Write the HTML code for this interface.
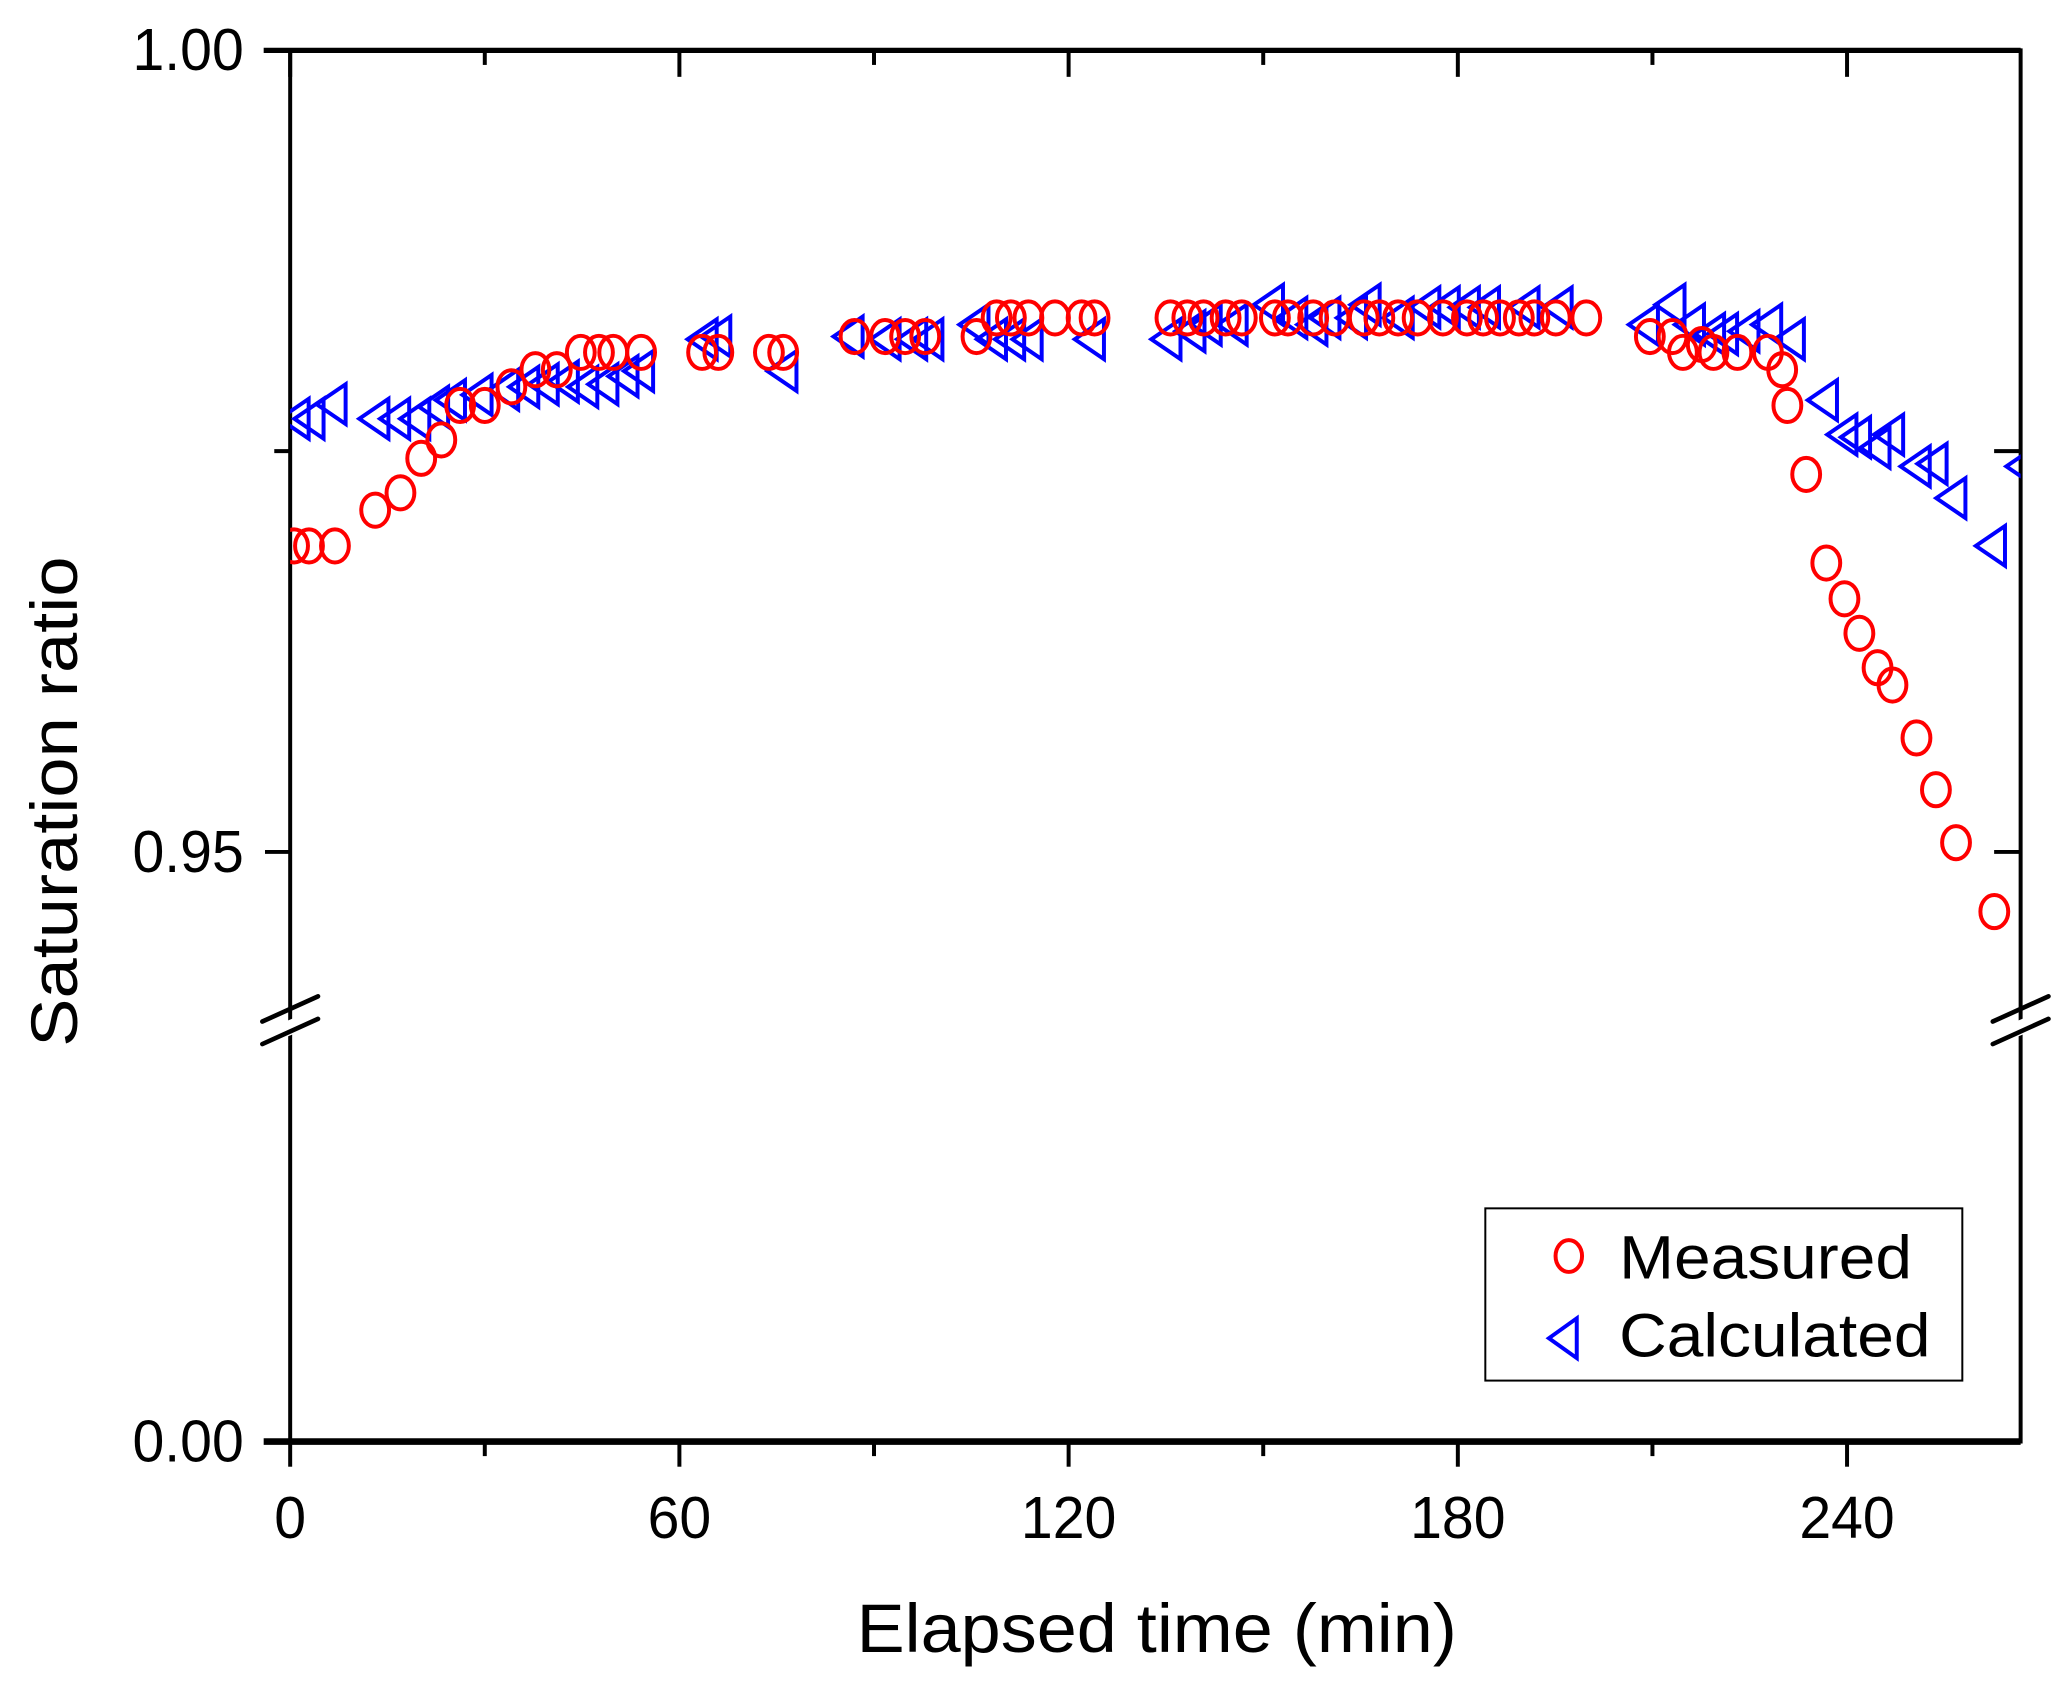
<!DOCTYPE html>
<html><head><meta charset="utf-8"><style>
html,body{margin:0;padding:0;background:#fff;}
svg{display:block;}
text{font-family:"Liberation Sans",Arial,sans-serif;fill:#000;}
</style></head><body>
<svg id="chart" width="2067" height="1684" viewBox="0 0 1560 1271" preserveAspectRatio="none" xmlns="http://www.w3.org/2000/svg">
<defs><clipPath id="plotclip"><rect x="219" y="38" width="1306" height="1050"/></clipPath></defs>
<g id="axes"></g>
<g id="marks" clip-path="url(#plotclip)"></g>
<g id="legend">
  <rect x="1121" y="912" width="360" height="130" fill="#fff" stroke="#000" stroke-width="1.5"/>
  <ellipse cx="1184" cy="948" rx="10" ry="12" fill="none" stroke="#f00" stroke-width="3"/>
  <polygon points="1169,1010 1190,995 1190,1025" fill="none" stroke="#00f" stroke-width="3"/>
  <text x="1222" y="965" font-size="46" textLength="221" lengthAdjust="spacingAndGlyphs">Measured</text>
  <text x="1222" y="1024" font-size="46" textLength="235" lengthAdjust="spacingAndGlyphs">Calculated</text>
</g>
<text x="873" y="1247" font-size="52" text-anchor="middle" textLength="453" lengthAdjust="spacingAndGlyphs">Elapsed time (min)</text>
<text transform="translate(58,605) rotate(-90)" font-size="50" text-anchor="middle" textLength="370" lengthAdjust="spacingAndGlyphs">Saturation ratio</text>
</svg>
<script>
const measuredTime=[0.6,2.9,6.9,13.1,17.0,20.2,23.3,26.2,30.0,34.1,37.8,41.1,44.8,47.6,49.8,54.1,63.5,66.0,73.8,76.0,87.0,91.7,94.8,97.9,105.8,108.9,111.1,113.8,117.9,122.0,124.0,135.7,138.3,140.8,144.2,146.7,151.8,153.8,157.7,161.0,165.5,167.9,170.8,173.8,177.7,181.4,183.9,186.5,189.4,191.8,195.1,199.8,209.6,213.1,214.7,217.6,219.4,223.1,227.8,230.0,230.8,233.7,236.8,239.6,241.9,244.7,247.0,250.7,253.7,256.8,262.7];
const measuredRatio=[0.96909,0.96909,0.96909,0.97132,0.97240,0.97455,0.97570,0.97785,0.97785,0.97901,0.98008,0.98008,0.98116,0.98116,0.98116,0.98116,0.98116,0.98116,0.98116,0.98116,0.98215,0.98215,0.98215,0.98215,0.98215,0.98331,0.98331,0.98331,0.98331,0.98331,0.98331,0.98331,0.98331,0.98331,0.98331,0.98331,0.98331,0.98331,0.98331,0.98331,0.98331,0.98331,0.98331,0.98331,0.98331,0.98331,0.98331,0.98331,0.98331,0.98331,0.98331,0.98331,0.98215,0.98215,0.98116,0.98165,0.98116,0.98116,0.98116,0.98008,0.97785,0.97355,0.96802,0.96579,0.96364,0.96149,0.96041,0.95711,0.95388,0.95058,0.94628];
const calcTime=[0.6,2.9,6.3,12.9,16.1,19.2,22.1,24.7,28.8,32.9,36.0,39.0,42.1,45.1,48.2,51.3,53.7,63.5,65.6,75.8,86.0,91.7,95.8,98.3,105.4,108.1,110.9,113.6,123.2,135.0,138.7,141.2,145.2,150.8,154.4,157.5,159.5,163.6,165.7,170.8,174.9,177.9,181.0,184.1,190.2,195.3,208.6,212.7,215.7,218.8,220.8,224.1,227.6,231.1,236.2,239.2,241.3,244.3,246.4,250.5,253.1,256.0,262.1,266.8];
const calcRatio=[0.97702,0.97702,0.97793,0.97702,0.97702,0.97702,0.97777,0.97818,0.97851,0.97884,0.97901,0.97917,0.97934,0.97901,0.97917,0.97967,0.98000,0.98198,0.98215,0.98000,0.98215,0.98198,0.98198,0.98198,0.98289,0.98198,0.98198,0.98198,0.98198,0.98198,0.98248,0.98289,0.98289,0.98413,0.98331,0.98289,0.98331,0.98331,0.98413,0.98331,0.98397,0.98397,0.98397,0.98397,0.98397,0.98397,0.98289,0.98413,0.98289,0.98231,0.98231,0.98248,0.98289,0.98198,0.97818,0.97603,0.97587,0.97521,0.97603,0.97405,0.97421,0.97207,0.96909,0.97405];
const xTicks=[0,60,120,180,240];
const xMinor=[30,90,150,210];
const yTickLabels=["1.00","0.95","0.00"];

const NS="http://www.w3.org/2000/svg";
const X0=219,X1=1525,YT=38,YB=1088;
function xs(t){return X0+t*(1394-219)/240;}
function ys(v){return 38+(1-v)*(643-38)/0.05;}
function mk(tag,attrs,parent){const e=document.createElementNS(NS,tag);for(const k in attrs)e.setAttribute(k,attrs[k]);parent.appendChild(e);return e;}
const axes=document.getElementById('axes'),marks=document.getElementById('marks');
let e;
e=mk('rect',{x:X0,y:YT,width:X1-X0,height:YB-YT,fill:'none',stroke:'#000','stroke-width':3},axes);


e=mk('line',{x1:X0-20,y1:YB,x2:X1,y2:YB,stroke:'#000','stroke-width':5},axes);


e=mk('line',{x1:X0-20,y1:YT,x2:X1,y2:YT,stroke:'#000','stroke-width':4},axes);


xTicks.forEach(t=>{
  const x=xs(t);
  e=mk('line',{x1:x,y1:YB,x2:x,y2:YB+19,stroke:'#000','stroke-width':3},axes);
  
  
  e=mk('line',{x1:x,y1:YT,x2:x,y2:YT+20,stroke:'#000','stroke-width':3},axes);
  
  
  e=mk('text',{x:x,y:1161,'font-size':45,'text-anchor':'middle'},axes);
  e.textContent=String(t);
  e.setAttribute('textLength',String(String(t).length*24));
  e.setAttribute('lengthAdjust','spacingAndGlyphs');
  
  
});
xMinor.forEach(t=>{
  const x=xs(t);
  e=mk('line',{x1:x,y1:YB,x2:x,y2:YB+11,stroke:'#000','stroke-width':3},axes);
  
  
  e=mk('line',{x1:x,y1:YT,x2:x,y2:YT+11,stroke:'#000','stroke-width':3},axes);
  
  
});
const yPos=[ys(1.0),ys(0.95),YB];
yTickLabels.forEach((lab,i)=>{
  e=mk('line',{x1:X0-19,y1:yPos[i],x2:X0,y2:yPos[i],stroke:'#000','stroke-width':3},axes);
  
  
  e=mk('text',{x:100,y:yPos[i]+15,'font-size':45,textLength:84,lengthAdjust:'spacingAndGlyphs'},axes);
  e.textContent=lab;
  
  
});
e=mk('line',{x1:X0-12,y1:ys(0.975),x2:X0,y2:ys(0.975),stroke:'#000','stroke-width':3},axes);


[0.975,0.95].forEach(v=>{
  e=mk('line',{x1:X1-20,y1:ys(v),x2:X1,y2:ys(v),stroke:'#000','stroke-width':3},axes);
  
  
});
[X0,X1].forEach(x=>{
  e=mk('polygon',{points:(x-6)+','+(772)+' '+(x+6)+','+(767)+' '+(x+6)+','+(779)+' '+(x-6)+','+(784),fill:'#fff'},axes);
  
  
  [0,17].forEach(d=>{
    e=mk('line',{x1:x-21,y1:771+d,x2:x+21,y2:752+d,stroke:'#000','stroke-width':3.5,'stroke-linecap':'round'},axes);
    
    
  });
});
calcTime.forEach((t,i)=>{
  const x=xs(t),y=ys(calcRatio[i]);
  e=mk('polygon',{points:(x-11)+','+y+' '+(x+11)+','+(y-15)+' '+(x+11)+','+(y+15),fill:'none',stroke:'#00f','stroke-width':3},marks);
  
  
});
measuredTime.forEach((t,i)=>{
  e=mk('ellipse',{cx:xs(t),cy:ys(measuredRatio[i]),rx:10.5,ry:12.5,fill:'none',stroke:'#f00','stroke-width':3},marks);
  
  
});
</script>
</body></html>
